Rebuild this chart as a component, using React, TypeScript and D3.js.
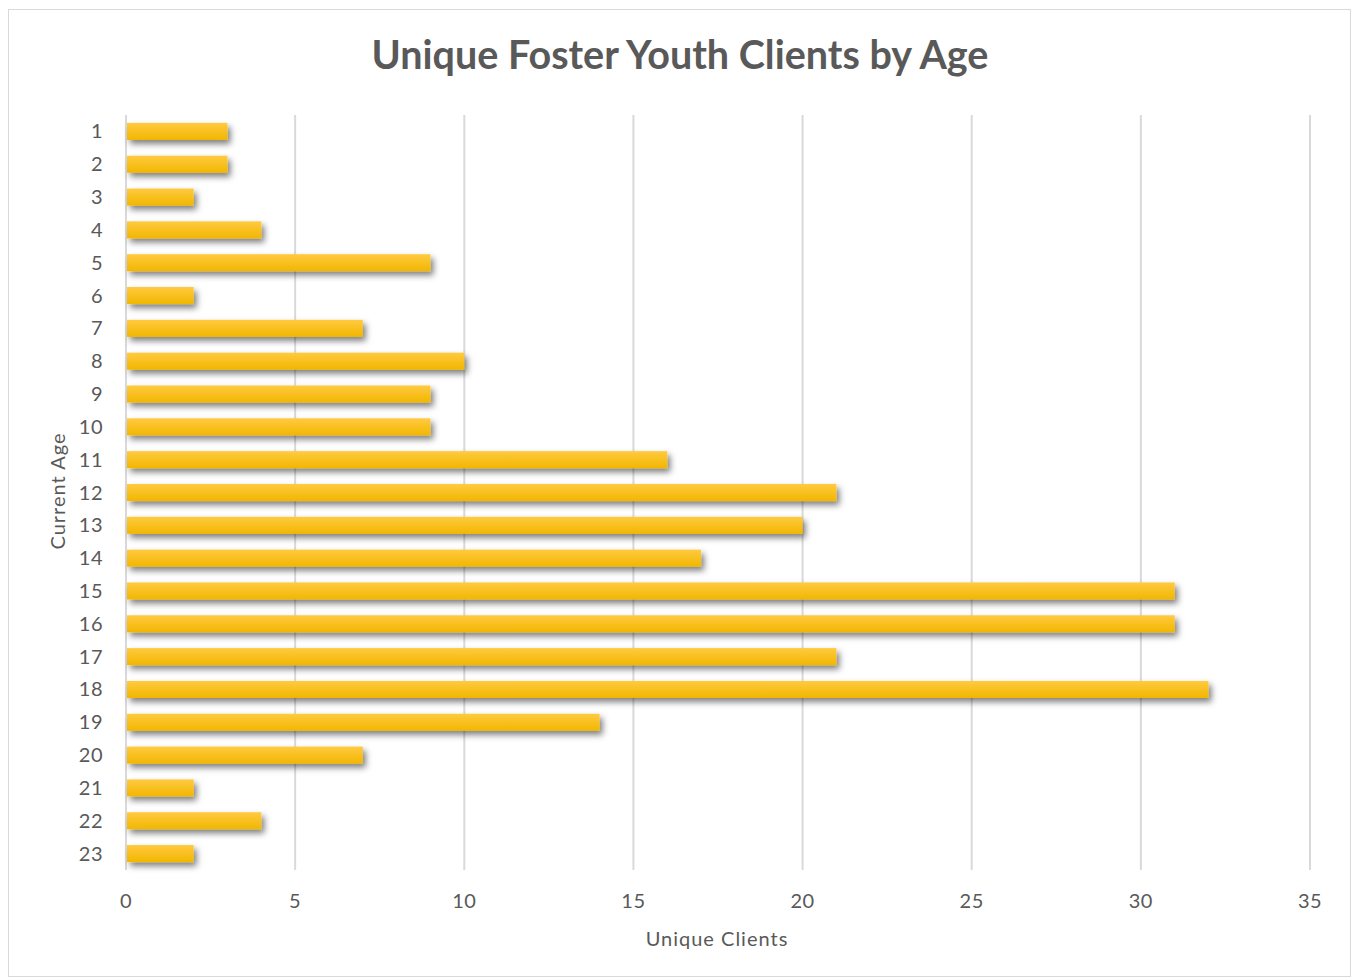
import { useEffect, useRef } from 'react';
import * as d3 from 'd3';

const ages = ['1', '2', '3', '4', '5', '6', '7', '8', '9', '10', '11', '12', '13', '14', '15', '16', '17', '18', '19', '20', '21', '22', '23'];
const clients = [3, 3, 2, 4, 9, 2, 7, 10, 9, 9, 16, 21, 20, 17, 31, 31, 21, 32, 14, 7, 2, 4, 2];
const xTicks = [0, 5, 10, 15, 20, 25, 30, 35];

const W = 1353;
const H = 978;
const FONT = 'Lato, "Open Sans", sans-serif';
const TEXT = '#595959';
const GRID = '#d9d9d9';

export default function App() {
  const svgRef = useRef<SVGSVGElement>(null);

  useEffect(() => {
    if (!svgRef.current) return;
    const svg = d3.select(svgRef.current);
    svg.selectAll('*').remove();

    const left = 126;
    const right = 1310;
    const top = 115;
    const bottom = 870;

    const x = d3.scaleLinear().domain([0, 35]).range([left, right]);
    const y = d3.scaleBand<string>().domain(ages).range([top, bottom]).paddingInner(0.48).paddingOuter(0.24);

    const defs = svg.append('defs');
    const grad = defs.append('linearGradient')
      .attr('id', 'barGrad')
      .attr('x1', 0).attr('y1', 0).attr('x2', 0).attr('y2', 1);
    grad.append('stop').attr('offset', '0%').attr('stop-color', '#ffca40');
    grad.append('stop').attr('offset', '100%').attr('stop-color', '#f2b600');

    const shadow = defs.append('filter')
      .attr('id', 'shadow')
      .attr('x', '-10%').attr('y', '-60%').attr('width', '130%').attr('height', '280%');
    shadow.append('feDropShadow')
      .attr('dx', 3).attr('dy', 4).attr('stdDeviation', 3)
      .attr('flood-color', '#000').attr('flood-opacity', 0.5);

    // chart frame
    svg.append('rect')
      .attr('x', 8.5).attr('y', 9.5)
      .attr('width', W - 11).attr('height', H - 11)
      .attr('fill', '#fff')
      .attr('stroke', GRID).attr('stroke-width', 1);

    // vertical gridlines
    svg.append('g')
      .selectAll('line')
      .data(xTicks)
      .join('line')
      .attr('x1', d => x(d)).attr('x2', d => x(d))
      .attr('y1', top).attr('y2', bottom)
      .attr('stroke', GRID)
      .attr('stroke-width', 2);

    // bars
    svg.append('g')
      .selectAll('rect')
      .data(clients)
      .join('rect')
      .attr('x', x(0) + 1)
      .attr('y', (_, i) => y(ages[i])!)
      .attr('width', d => x(d) - x(0) - 1)
      .attr('height', y.bandwidth())
      .attr('fill', 'url(#barGrad)')
      .attr('filter', 'url(#shadow)');

    // y labels
    svg.append('g')
      .selectAll('text')
      .data(ages)
      .join('text')
      .attr('x', 103)
      .attr('y', d => y(d)! + y.bandwidth() / 2)
      .attr('dy', '0.35em')
      .attr('text-anchor', 'end')
      .attr('font-family', FONT)
      .attr('font-size', 20)
      .attr('letter-spacing', 0.5)
      .attr('fill', TEXT)
      .text(d => d);

    // x labels
    svg.append('g')
      .selectAll('text')
      .data(xTicks)
      .join('text')
      .attr('x', d => x(d))
      .attr('y', 908)
      .attr('text-anchor', 'middle')
      .attr('font-family', FONT)
      .attr('font-size', 20)
      .attr('letter-spacing', 0.5)
      .attr('fill', TEXT)
      .text(d => d);

    // axis titles
    svg.append('text')
      .attr('x', 717).attr('y', 946)
      .attr('text-anchor', 'middle')
      .attr('font-family', FONT)
      .attr('font-size', 20)
      .attr('letter-spacing', 1)
      .attr('fill', TEXT)
      .text('Unique Clients');

    svg.append('text')
      .attr('transform', 'translate(65,' + 491 + ') rotate(-90)')
      .attr('text-anchor', 'middle')
      .attr('font-family', FONT)
      .attr('font-size', 20)
      .attr('letter-spacing', 1)
      .attr('fill', TEXT)
      .text('Current Age');

    // title
    svg.append('text')
      .attr('x', 680).attr('y', 69)
      .attr('text-anchor', 'middle')
      .attr('font-family', FONT)
      .attr('font-size', 39.5)
      .attr('font-weight', 'bold')
      .attr('fill', TEXT)
      .text('Unique Foster Youth Clients by Age');
  }, []);

  return (
    <svg
      ref={svgRef}
      width={W}
      height={H}
      style={{ position: 'absolute', left: 0, top: 0, background: '#fff' }}
    />
  );
}
